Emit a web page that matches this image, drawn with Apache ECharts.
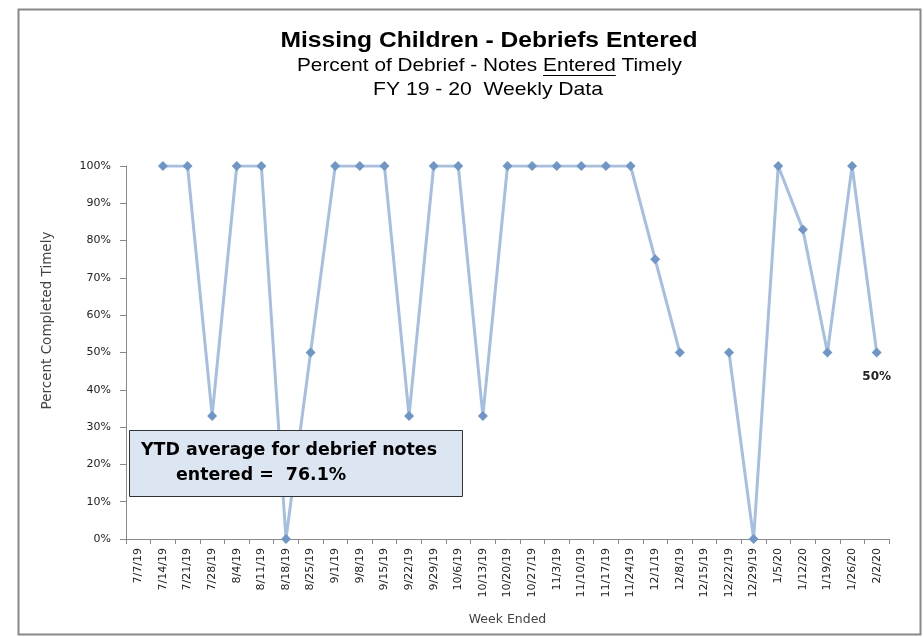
<!DOCTYPE html>
<html><head><meta charset="utf-8">
<script src="https://cdn.jsdelivr.net/npm/echarts@6/dist/echarts.min.js"></script>
<style>html,body{margin:0;padding:0;background:#fff}#c{width:924px;height:637px}</style>
</head><body><div id="c"></div>
<script>
const categories = ['7/7/19','7/14/19','7/21/19','7/28/19','8/4/19','8/11/19','8/18/19','8/25/19','9/1/19','9/8/19','9/15/19','9/22/19','9/29/19','10/6/19','10/13/19','10/20/19','10/27/19','11/3/19','11/10/19','11/17/19','11/24/19','12/1/19','12/8/19','12/15/19','12/22/19','12/29/19','1/5/20','1/12/20','1/19/20','1/26/20','2/2/20'];
const percentTimely = [null,100,100,33,100,100,0,50,100,100,100,33,100,100,33,100,100,100,100,100,100,75,50,null,50,0,100,83,50,100,50];
const yTicks = [0,10,20,30,40,50,60,70,80,90,100];
const lastLabel = '50%';
const titleText = 'Missing Children - Debriefs Entered';
const subPre = 'Percent of Debrief - Notes ';
const subUnder = 'Entered';
const subPost = ' Timely';
const line3Text = 'FY 19 - 20  Weekly Data';
const ytdText = ['YTD average for debrief notes', 'entered =  76.1%'];

const cv = document.createElement('canvas').getContext('2d');
function measure(t, font) { cv.font = font; return cv.measureText(t).width; }

const chart = echarts.init(document.getElementById('c'));
const lastIdx = percentTimely.length - 1;
const tf = "'Liberation Sans',Arial,sans-serif";
const af = "'DejaVu Sans',Verdana,sans-serif";

const titleFont = "bold 22px " + tf;
const subFont = "19px " + tf;
const ytdFont = "bold 17px " + af;
const tScale = 417 / measure(titleText, titleFont);
const subFull = subPre + subUnder + subPost;
const sScale = 385 / measure(subFull, subFont);
const l3Scale = 230 / measure(line3Text, subFont);
const subLeft = 489.5 - 385 / 2;
const ulX1 = subLeft + measure(subPre, subFont) * sScale;
const ulX2 = ulX1 + measure(subUnder, subFont) * sScale;
const yScale = 296 / measure(ytdText[0], ytdFont);

chart.setOption({
  animation: false,
  grid: {left: 126, right: 35, top: 166, bottom: 98},
  xAxis: {
    type: 'category', data: categories, boundaryGap: true,
    name: 'Week Ended', nameLocation: 'middle', nameGap: 74,
    nameTextStyle: {fontFamily: af, fontSize: 12.5, color: '#444'},
    axisLine: {lineStyle: {color: '#888'}},
    axisTick: {show: true, alignWithLabel: false, length: 5, lineStyle: {color: '#888'}},
    axisLabel: {rotate: 90, interval: 0, fontFamily: af, fontSize: 11, color: '#222', margin: 9}
  },
  yAxis: {
    type: 'value', min: 0, max: 100, interval: 10,
    name: 'Percent Completed Timely', nameLocation: 'middle', nameGap: 72,
    nameTextStyle: {fontFamily: af, fontSize: 13.5, color: '#444', padding: [0, 0, 0, 64]},
    axisLine: {show: true, lineStyle: {color: '#888'}},
    axisTick: {show: true, length: 6, lineStyle: {color: '#888'}},
    splitLine: {show: false},
    axisLabel: {formatter: v => yTicks.includes(v) ? v + '%' : '', fontFamily: af, fontSize: 11, color: '#222', margin: 15}
  },
  series: [{
    type: 'line', data: percentTimely.map((v, i) => i === lastIdx ? {value: v, label: {show: true, position: 'bottom', distance: 13, formatter: lastLabel, fontFamily: af, fontWeight: 'bold', fontSize: 12, color: '#222'}} : v),
    connectNulls: false,
    symbol: 'diamond', symbolSize: 10,
    lineStyle: {color: '#a5bfe1', width: 3},
    itemStyle: {color: '#6f96c9'}
  }],
  graphic: [
    {type: 'rect', shape: {x: 18.5, y: 9.5, width: 902, height: 625}, style: {fill: 'none', stroke: '#888', lineWidth: 2}, silent: true},
    {type: 'text', x: 489, y: 41, scaleX: tScale, style: {text: titleText, font: titleFont, fill: '#000', textAlign: 'center', textVerticalAlign: 'middle'}},
    {type: 'text', x: 489.5, y: 66, scaleX: sScale, style: {text: subFull, font: subFont, fill: '#000', textAlign: 'center', textVerticalAlign: 'middle'}},
    {type: 'line', shape: {x1: ulX1, y1: 75.5, x2: ulX2, y2: 75.5}, style: {stroke: '#000', lineWidth: 1}},
    {type: 'text', x: 488, y: 89.5, scaleX: l3Scale, style: {text: line3Text, font: subFont, fill: '#000', textAlign: 'center', textVerticalAlign: 'middle'}},
    {type: 'rect', shape: {x: 129.5, y: 430.5, width: 333, height: 66}, style: {fill: '#dce6f2', stroke: '#333', lineWidth: 1}, z: 100},
    {type: 'text', x: 141, y: 451, z: 101, scaleX: yScale, style: {text: ytdText[0], font: ytdFont, fill: '#000', textVerticalAlign: 'middle'}},
    {type: 'text', x: 176, y: 476, z: 101, scaleX: yScale, style: {text: ytdText[1], font: ytdFont, fill: '#000', textVerticalAlign: 'middle'}}
  ]
});
</script></body></html>
